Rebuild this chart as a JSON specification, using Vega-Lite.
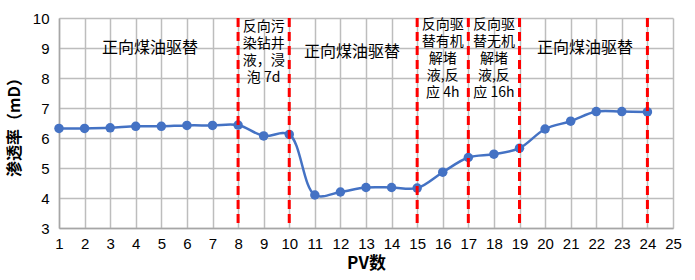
{
  "$schema": "https://vega.github.io/schema/vega-lite/v6.json",
  "autosize": "none",
  "width": 614,
  "height": 210,
  "padding": {"left": 59, "top": 18, "right": 22, "bottom": 52},
  "background": "white",
  "config": {
    "view": {"stroke": null},
    "font": "Liberation Sans, Noto Sans CJK SC",
    "axis": {"grid": true, "gridColor": "#bdbdbd", "gridOpacity": 1, "gridWidth": 1.5, "labelOverlap": false}
  },
  "datasets": {
    "series": [
      {"pv": 1, "k": 6.32}, {"pv": 2, "k": 6.32}, {"pv": 3, "k": 6.34}, {"pv": 4, "k": 6.39},
      {"pv": 5, "k": 6.39}, {"pv": 6, "k": 6.42}, {"pv": 7, "k": 6.42}, {"pv": 8, "k": 6.43},
      {"pv": 9, "k": 6.07}, {"pv": 10, "k": 6.12}, {"pv": 11, "k": 4.1}, {"pv": 12, "k": 4.2},
      {"pv": 13, "k": 4.35}, {"pv": 14, "k": 4.35}, {"pv": 15, "k": 4.33}, {"pv": 16, "k": 4.86},
      {"pv": 17, "k": 5.35}, {"pv": 18, "k": 5.46}, {"pv": 19, "k": 5.66}, {"pv": 20, "k": 6.3},
      {"pv": 21, "k": 6.56}, {"pv": 22, "k": 6.88}, {"pv": 23, "k": 6.88}, {"pv": 24, "k": 6.87}
    ],
    "rules": [{"pv": 8}, {"pv": 10}, {"pv": 15}, {"pv": 17}, {"pv": 19}, {"pv": 24}],
    "big": [
      {"pv": 4.56, "k": 9.0, "label": "正向煤油驱替"},
      {"pv": 12.45, "k": 8.88, "label": "正向煤油驱替"},
      {"pv": 21.56, "k": 9.0, "label": "正向煤油驱替"}
    ],
    "small": [
      {"pv": 9.0, "k": 9.7, "label": "反向污\n染钻井\n液，浸\n泡 7d"},
      {"pv": 16.0, "k": 9.77, "label": "反向驱\n替有机\n解堵\n液,反\n应 4h"},
      {"pv": 18.0, "k": 9.77, "label": "反向驱\n替无机\n解堵\n液,反\n应 16h"}
    ]
  },
  "encoding": {
    "x": {"field": "pv", "type": "quantitative", "scale": {"domain": [1, 25], "nice": false, "zero": false},
          "axis": {"tickCount": 24, "title": "PV数",
                   "grid": true, "gridColor": "#bdbdbd", "gridWidth": 1.5, "domainColor": "#a6a6a6", "domainWidth": 1.5,
                   "ticks": false, "labelOverlap": false, "labelFlush": false, "labelFont": "Liberation Sans", "labelFontSize": 15,
                   "labelColor": "#000000", "titleFont": "Noto Sans CJK SC", "titleFontSize": 17, "titleFontWeight": "bold",
                   "titleColor": "#000000", "labelPadding": 8, "titlePadding": 4, "format": "d"}}
  },
  "layer": [
    {
      "data": {"name": "series"},
      "mark": {"type": "line", "color": "#4472c4", "strokeWidth": 2.5, "interpolate": "catmull-rom",
               "point": {"filled": true, "color": "#4472c4", "size": 90, "opacity": 1}},
      "encoding": {
        "y": {"field": "k", "type": "quantitative", "scale": {"domain": [3, 10], "nice": false, "zero": false},
              "axis": {"tickCount": 7, "title": "渗透率（mD）",
                       "grid": true, "gridColor": "#bdbdbd", "gridWidth": 1.5, "domainColor": "#a6a6a6", "domainWidth": 1.5,
                       "ticks": false, "labelOverlap": false, "labelFont": "Liberation Sans", "labelFontSize": 15,
                       "labelColor": "#000000", "titleFont": "Noto Sans CJK SC", "titleFontSize": 16, "titleFontWeight": "bold",
                       "titleColor": "#000000", "labelPadding": 10, "titlePadding": 10, "format": "d"}}
      }
    },
    {
      "data": {"name": "rules"},
      "mark": {"type": "rule", "color": "#ff0000", "strokeWidth": 3, "strokeDash": [9, 5]},
      "encoding": {}
    },
    {
      "data": {"name": "big"},
      "mark": {"type": "text", "font": "Noto Sans CJK SC", "fontSize": 16, "color": "#000000", "baseline": "middle", "align": "center"},
      "encoding": {
        "y": {"field": "k", "type": "quantitative"},
        "text": {"field": "label"}
      }
    },
    {
      "data": {"name": "small"},
      "mark": {"type": "text", "font": "Noto Sans CJK SC", "fontSize": 14, "color": "#000000", "baseline": "middle", "align": "center", "lineBreak": "\n", "lineHeight": 17},
      "encoding": {
        "y": {"field": "k", "type": "quantitative"},
        "text": {"field": "label"}
      }
    }
  ]
}
